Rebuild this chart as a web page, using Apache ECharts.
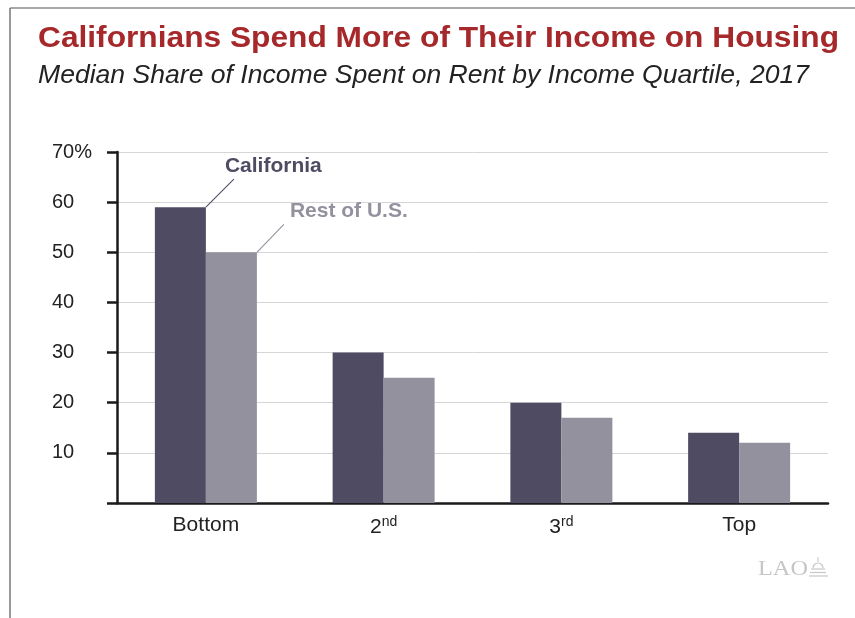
<!DOCTYPE html>
<html>
<head>
<meta charset="utf-8">
<style>html,body{margin:0;padding:0;background:#fff}#c{width:855px;height:618px}</style>
<script src="https://cdn.jsdelivr.net/npm/echarts@6/dist/echarts.min.js"></script>
</head>
<body>
<div id="c"></div>
<script>
const categories = ['Bottom', '2nd', '3rd', 'Top'];
const california = [59, 30, 20, 14];
const restOfUS = [50, 25, 17, 12];

const TITLE = 'Californians Spend More of Their Income on Housing';
const SUBTITLE = 'Median Share of Income Spent on Rent by Income Quartile, 2017';

const CA_COLOR = '#4e4b63';
const US_COLOR = '#94919f';
const FONT = '"Liberation Sans", Arial, sans-serif';
const SERIF = '"Liberation Serif", "DejaVu Serif", serif';
const BAR_W = 51;

// horizontal scale to fit a text to a target width
const mctx = document.createElement('canvas').getContext('2d');
function fitScale(text, font, target) {
  mctx.font = font;
  return target / mctx.measureText(text).width;
}

const chart = echarts.init(document.getElementById('c'));
const catLabels = { 'Bottom': 'Bottom', '2nd': '2{sup|nd}', '3rd': '3{sup|rd}', 'Top': 'Top' };

chart.setOption({
  animation: false,
  backgroundColor: '#fff',
  grid: { left: 117, right: 27, top: 152, bottom: 115, containLabel: false },
  xAxis: {
    type: 'category',
    data: categories,
    axisLine: { show: true, lineStyle: { color: '#1a1a1a', width: 2.5 } },
    axisTick: { show: false },
    axisLabel: {
      margin: 12,
      color: '#222',
      fontSize: 21,
      fontFamily: FONT,
      formatter: v => catLabels[v],
      rich: { sup: { fontSize: 14, verticalAlign: 'top', padding: [0, 0, 11, 0], fontFamily: FONT, color: '#222' } }
    }
  },
  yAxis: {
    type: 'value',
    min: 0, max: 70, interval: 10,
    axisLine: { show: true, lineStyle: { color: '#1a1a1a', width: 2.5 } },
    axisTick: { show: true, length: 10, lineStyle: { color: '#1a1a1a', width: 2.5 } },
    splitLine: { show: true, lineStyle: { color: '#d6d6d6', width: 1 } },
    axisLabel: {
      align: 'left',
      margin: 65,
      color: '#222',
      fontSize: 20,
      fontFamily: FONT,
      formatter: v => v === 0 ? '' : (v === 70 ? v + '%' : String(v))
    }
  },
  series: [
    { name: 'California', type: 'bar', data: california, barWidth: BAR_W, barGap: '0%', itemStyle: { color: CA_COLOR } },
    { name: 'Rest of U.S.', type: 'bar', data: restOfUS, barWidth: BAR_W, barGap: '0%', itemStyle: { color: US_COLOR } }
  ]
});

const caTop = chart.convertToPixel({ xAxisIndex: 0, yAxisIndex: 0 }, [0, california[0]]);
const usTop = chart.convertToPixel({ xAxisIndex: 0, yAxisIndex: 0 }, [0, restOfUS[0]]);
const caX = caTop[0], caY = caTop[1];
const usX = usTop[0] + BAR_W, usY = usTop[1];

const titleFont = 'bold 29px ' + FONT;
const subFont = 'italic 25px ' + FONT;
const laoFont = '21px ' + SERIF;
const G = '#c6c6c6';

chart.setOption({
  graphic: [
    // frame
    { type: 'line', shape: { x1: 10, y1: 8, x2: 855, y2: 8 }, style: { stroke: '#555', lineWidth: 1.2 } },
    { type: 'line', shape: { x1: 10, y1: 8, x2: 10, y2: 618 }, style: { stroke: '#555', lineWidth: 1.2 } },
    // title & subtitle
    { type: 'text', x: 38, y: 39, scaleX: fitScale(TITLE, titleFont, 801),
      style: { text: TITLE, fill: '#a6282a', font: titleFont, textVerticalAlign: 'middle' } },
    { type: 'text', x: 38, y: 76.5, scaleX: fitScale(SUBTITLE, subFont, 771),
      style: { text: SUBTITLE, fill: '#222', font: subFont, textVerticalAlign: 'middle' } },
    // California label
    { type: 'line', shape: { x1: caX, y1: caY, x2: caX + 28, y2: caY - 28 }, style: { stroke: CA_COLOR, lineWidth: 1.1 } },
    { type: 'text', x: caX + 19, y: caY - 41, style: { text: 'California', fill: CA_COLOR, font: 'bold 21px ' + FONT, textVerticalAlign: 'middle' } },
    // Rest of U.S. label
    { type: 'line', shape: { x1: usX, y1: usY, x2: usX + 27, y2: usY - 28 }, style: { stroke: US_COLOR, lineWidth: 1.1 } },
    { type: 'text', x: usX + 33, y: usY - 41, style: { text: 'Rest of U.S.', fill: US_COLOR, font: 'bold 21px ' + FONT, textVerticalAlign: 'middle' } },
    // LAO mark
    { type: 'text', x: 758, y: 569, scaleX: fitScale('LAO', laoFont, 50),
      style: { text: 'LAO', fill: G, font: laoFont, textVerticalAlign: 'middle' } },
    { type: 'line', shape: { x1: 818, y1: 557, x2: 818, y2: 562 }, style: { stroke: G, lineWidth: 1 } },
    { type: 'arc', shape: { cx: 818, cy: 568, r: 5, startAngle: Math.PI, endAngle: 2 * Math.PI }, style: { stroke: G, fill: 'none', lineWidth: 1.2 } },
    { type: 'line', shape: { x1: 811, y1: 569, x2: 825, y2: 569 }, style: { stroke: G, lineWidth: 1.2 } },
    { type: 'line', shape: { x1: 810, y1: 572.5, x2: 826, y2: 572.5 }, style: { stroke: G, lineWidth: 1.2 } },
    { type: 'line', shape: { x1: 809, y1: 576, x2: 828, y2: 576 }, style: { stroke: G, lineWidth: 1.2 } }
  ]
});
</script>
</body>
</html>
